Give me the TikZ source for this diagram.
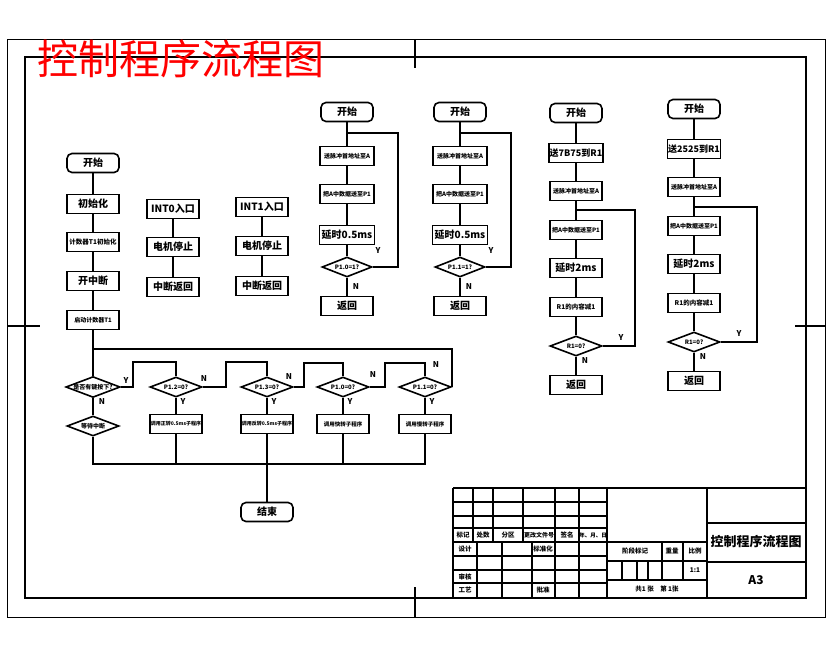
\documentclass[tikz,border=0pt]{standalone}
\usepackage{fontspec}
\setmainfont{Noto Sans CJK SC}
\usetikzlibrary{shapes.geometric, calc}

\begin{document}
\begin{tikzpicture}[x=1pt, y=-1pt, line width=1.6pt,
  box/.style={draw, minimum width=52pt, minimum height=19pt, inner sep=0.5pt,
    font=\bfseries\fontsize{10}{10}\selectfont},
  sbox/.style={box, font=\bfseries\fontsize{6}{6}\selectfont},
  term/.style={box, rounded corners=5pt},
  dec/.style={draw, diamond, aspect=2.6, minimum width=52pt, minimum height=20pt,
    inner sep=0pt, font=\bfseries\fontsize{6}{6}\selectfont},
  lab/.style={font=\bfseries\fontsize{8}{8}\selectfont},
  cell/.style={font=\bfseries\fontsize{6.5}{6.5}\selectfont}]
  \useasboundingbox (0,0) rectangle (830,654);
  \fill[white] (0,0) rectangle (830,654);

  % frames
  \draw[line width=0.8pt] (7,39) rectangle (825,617);
  \draw[line width=2pt] (25,57) rectangle (806,598);
  \draw[line width=1.2pt] (415,39) -- (415,68);
  \draw[line width=1.2pt] (415,587) -- (415,617);
  \draw[line width=1.2pt] (7,326) -- (40,326);
  \draw[line width=1.2pt] (795,326) -- (825,326);
  \node[text=red, font=\fontsize{41}{41}\selectfont] (title) at (181,59) {控制程序流程图};

  % main program
  \node[term] (s1) at (93,163) {开始};
  \node[box] (a1) at (93,204) {初始化};
  \node[sbox, font=\bfseries\fontsize{6.5}{6.5}\selectfont] (a2) at (93,242) {计数器T1初始化};
  \node[box] (a3) at (93,281) {开中断};
  \node[sbox] (a4) at (93,320) {启动计数器T1};
  \node[dec] (d1) at (93,387) {是否有键按下?};
  \node[dec] (d0) at (93,426) {等待中断};
  \node[dec] (d2) at (176,387) {P1.2=0?};
  \node[dec] (d3) at (267,387) {P1.3=0?};
  \node[dec] (d4) at (343,387) {P1.0=0?};
  \node[dec] (d5) at (425,387) {P1.1=0?};
  \node[sbox, font=\bfseries\fontsize{5}{5}\selectfont] (b2) at (176,424) {调用正转0.5ms子程序};
  \node[sbox, font=\bfseries\fontsize{5}{5}\selectfont] (b3) at (267,424) {调用反转0.5ms子程序};
  \node[sbox, font=\bfseries\fontsize{5.5}{5.5}\selectfont] (b4) at (343,424) {调用快转子程序};
  \node[sbox, font=\bfseries\fontsize{5.5}{5.5}\selectfont] (b5) at (425,424) {调用慢转子程序};
  \node[term] (e1) at (267,512) {结束};
  \coordinate (j1) at (93,349);
  \coordinate (bus) at (425,464);
  \draw (s1) -- (a1) -- (a2) -- (a3) -- (a4) -- (d1) -- (d0);
  \draw (d5.east) |- (j1);
  \draw (d1.east) -- ++(12,0) -- ++(0,-25) -| (d2.north);
  \draw (d2.east) -- ++(23,0) -- ++(0,-25) -| (d3.north);
  \draw (d3.east) -- ++(10,0) -- ++(0,-24) -| (d4.north);
  \draw (d4.east) -- ++(15,0) -- ++(0,-24) -| (d5.north);
  \foreach \d in {2,3,4,5}
    \draw (d\d) -- (b\d);
  \draw (d0.south) |- (bus) -- (b5.south);
  \foreach \b in {2,3,4}
    \draw (b\b.south) -- (b\b.south |- bus);
  \draw (b3.south |- bus) -- (e1.north);
  \node[lab] (l1) at (126,381) {Y};
  \node[lab] (l2) at (204,379) {N};
  \node[lab] (l3) at (289,377) {N};
  \node[lab] (l4) at (373,375) {N};
  \node[lab] (l5) at (436,365) {N};
  \node[lab] (l6) at (102,402) {N};
  \foreach \d/\x in {2/183,3/274,4/350,5/432}
    \node[lab] at (\x,402) {Y};

  % INT0 and INT1
  \node[box] (i1) at (173,209) {INT0入口};
  \node[box] (i2) at (173,247) {电机停止};
  \node[box] (i3) at (173,287) {中断返回};
  \draw (i1) -- (i2) -- (i3);
  \node[box] (k1) at (262,207) {INT1入口};
  \node[box] (k2) at (262,246) {电机停止};
  \node[box] (k3) at (262,286) {中断返回};
  \draw (k1) -- (k2) -- (k3);

  % 0.5ms subroutines
  \foreach \n/\x/\p in {3/347/P1.0=1?,4/460/P1.1=1?} {
    \node[term] (s\n) at (\x,112) {开始};
    \node[sbox, minimum width=54pt] (p\n1) at (\x,156) {送脉冲首地址至A};
    \node[sbox, minimum width=54pt] (p\n2) at (\x,194) {把A中数据送至P1};
    \node[box, minimum width=55pt] (p\n3) at (\x,235) {延时0.5ms};
    \node[dec, minimum width=50pt] (q\n) at (\x,267) {\p};
    \node[box] (r\n) at (\x,306) {返回};
    \coordinate (c\n) at (\x,133);
    \draw (s\n) -- (p\n1) -- (p\n2) -- (p\n3) -- (q\n) -- (r\n);
    \draw (q\n.east) -- ++(25,0) |- (c\n);
    \node[lab] at (\x+31,251) {Y};
    \node[lab] at (\x+9,287) {N};
  }

  % 2ms subroutines
  \foreach \n/\x/\t/\v/\w/\dy in {5/576/7B75/210/635/0,6/694/2525/207/757/-4} {
    \node[term] (s\n) at (\x,113+\dy) {开始};
    \node[box, font=\bfseries\fontsize{9}{9}\selectfont] (u\n1) at (\x,153+\dy) {送\t 到R1};
    \node[sbox] (u\n2) at (\x,191+\dy) {送脉冲首地址至A};
    \node[sbox] (u\n3) at (\x,230+\dy) {把A中数据送至P1};
    \node[box] (u\n4) at (\x,268+\dy) {延时2ms};
    \node[sbox, font=\bfseries\fontsize{6.5}{6.5}\selectfont] (u\n5) at (\x,307+\dy) {R1的内容减1};
    \node[dec] (q\n) at (\x,346+\dy) {R1=0?};
    \node[box] (r\n) at (\x,385+\dy) {返回};
    \coordinate (c\n) at (\x,\v);
    \draw (s\n) -- (u\n1) -- (u\n2) -- (u\n3) -- (u\n4) -- (u\n5) -- (q\n) -- (r\n);
    \draw (q\n.east) -| (\w,\v) -- (c\n);
    \node[lab] at (\x+45,338+\dy) {Y};
    \node[lab] at (\x+9,361+\dy) {N};
  }

  % title block
  \draw (453,488) -- (806,488);
  \draw (453,488) -- (453,598);
  \draw (607,488) -- (607,598);
  \draw (707,488) -- (707,598);
  \foreach \y in {502,516,528,542,556,570,583}
    \draw (453,\y) -- (607,\y);
  \foreach \x in {473,493,523,555,579}
    \draw (\x,488) -- (\x,542);
  \foreach \x in {477,502,532,555,579}
    \draw (\x,542) -- (\x,598);
  \foreach \y in {542,561,580}
    \draw (607,\y) -- (707,\y);
  \foreach \x in {662,683}
    \draw (\x,542) -- (\x,580);
  \foreach \x in {622,637,648}
    \draw (\x,561) -- (\x,580);
  \draw (707,523) -- (806,523);
  \draw (707,562) -- (806,562);
  \node[cell] at (463,535) {标记};
  \node[cell] at (483,535) {处数};
  \node[cell] at (508,535) {分区};
  \node[cell, font=\bfseries\fontsize{6}{6}\selectfont] at (539,535) {更改文件号};
  \node[cell] at (567,535) {签名};
  \node[cell, font=\bfseries\fontsize{5.5}{5.5}\selectfont] at (593,535) {年、月、日};
  \node[cell] at (465,549) {设计};
  \node[cell] at (543,549) {标准化};
  \node[cell] at (465,577) {审核};
  \node[cell] at (465,590) {工艺};
  \node[cell] at (543,590) {批准};
  \node[cell] at (635,551) {阶段标记};
  \node[cell] at (672,551) {重量};
  \node[cell] at (695,551) {比例};
  \node[cell] at (695,570) {1:1};
  \node[cell] at (657,589) {共1 张\quad 第 1张};
  \node[font=\bfseries\fontsize{13}{13}\selectfont] at (756,542) {控制程序流程图};
  \node[font=\bfseries\fontsize{12}{12}\selectfont] at (756,580) {A3};
\end{tikzpicture}
\end{document}
